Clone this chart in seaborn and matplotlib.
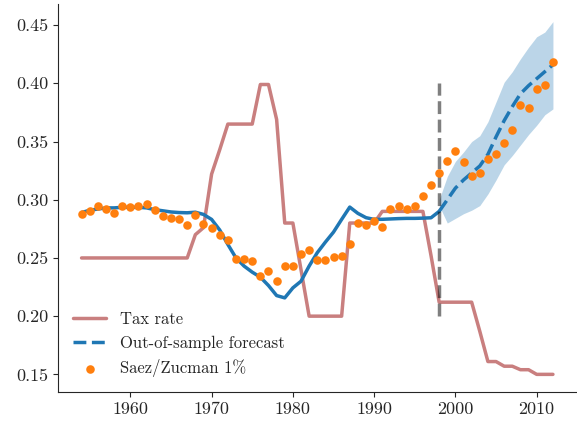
import numpy as np
import pandas as pd
import matplotlib
matplotlib.use('Agg')
import matplotlib.pyplot as plt
import seaborn as sns

sns.set_style("ticks")
plt.rcParams['font.family'] = ['cmr10', 'DejaVu Serif']
plt.rcParams['axes.unicode_minus'] = False
plt.rcParams['mathtext.fontset'] = 'cm'

# ---- data ----
years = list(range(1954, 2013))

tax_rate = [0.25] * 14 + [
    0.270, 0.276, 0.322, 0.343, 0.365, 0.365, 0.365, 0.365, 0.399, 0.399,  # 1968-77
    0.369, 0.280, 0.280, 0.240, 0.200, 0.200, 0.200, 0.200, 0.200, 0.280,  # 1978-87
    0.280, 0.280, 0.280, 0.290, 0.290, 0.290, 0.290, 0.290, 0.290, 0.252,  # 1988-97
    0.212, 0.212, 0.212, 0.212, 0.212, 0.187, 0.161, 0.161, 0.157, 0.157,  # 1998-07
    0.154, 0.154, 0.150, 0.150, 0.150,                                     # 2008-12
]

# in-sample fit, 1954-1998
fit_years = list(range(1954, 1999))
fit = [
    0.289, 0.291, 0.292, 0.293, 0.293, 0.2935, 0.2935, 0.2935, 0.293, 0.2915,
    0.2905, 0.2895, 0.289, 0.2888, 0.2893, 0.2874, 0.2831, 0.274, 0.2616, 0.250,
    0.243, 0.2378, 0.2335, 0.2263, 0.2177, 0.2157, 0.2243, 0.230, 0.243, 0.2545,
    0.2636, 0.2722, 0.2831, 0.2937, 0.2883, 0.2846, 0.2831, 0.2832, 0.2835, 0.2838,
    0.284, 0.284, 0.2842, 0.2845, 0.290,
]

# out-of-sample forecast, 1998-2012
fc_years = list(range(1998, 2013))
forecast = [0.290, 0.300, 0.310, 0.317, 0.323, 0.329, 0.339, 0.354, 0.368, 0.380,
            0.391, 0.398, 0.404, 0.410, 0.416]
fc_lower = [0.295, 0.280, 0.284, 0.288, 0.291, 0.295, 0.305, 0.317, 0.330, 0.338,
            0.347, 0.356, 0.364, 0.373, 0.378]
fc_upper = [0.300, 0.320, 0.333, 0.341, 0.350, 0.355, 0.367, 0.384, 0.401, 0.410,
            0.421, 0.431, 0.440, 0.444, 0.453]

saez_zucman = [
    0.288, 0.2906, 0.2943, 0.2917, 0.2886, 0.2943, 0.2941, 0.2949, 0.2963, 0.2909,
    0.2857, 0.2846, 0.2834, 0.2782, 0.2866, 0.2791, 0.2756, 0.270, 0.265, 0.2487,
    0.2487, 0.2473, 0.2347, 0.2392, 0.2298, 0.2435, 0.2435, 0.253, 0.257, 0.2479,
    0.2484, 0.2507, 0.2513, 0.2619, 0.2797, 0.2782, 0.2814, 0.2762, 0.2923, 0.2946,
    0.292, 0.2949, 0.303, 0.3127, 0.323, 0.333, 0.3417, 0.3324, 0.3204, 0.323,
    0.3354, 0.3397, 0.3488, 0.3597, 0.3815, 0.3784, 0.395, 0.3982, 0.4182,
]
break_year = 1998

# ---- plot ----
fig = plt.figure(figsize=(5.77, 4.22), dpi=100)
ax = fig.add_axes([58 / 577, 30 / 422, 518.5 / 577, 388 / 422])

sns.lineplot(x=years, y=tax_rate, ax=ax, color='brown', alpha=0.6, lw=2.5,
             label='Tax rate')
sns.lineplot(x=fit_years, y=fit, ax=ax, color='C0', lw=2.5)
ax.fill_between(fc_years, fc_lower, fc_upper, color='C0', alpha=0.3, lw=0)
sns.lineplot(x=fc_years, y=forecast, ax=ax, color='C0', lw=2.5, linestyle='--',
             label='Out-of-sample forecast')
sns.scatterplot(x=years, y=saez_zucman, ax=ax, color='C1', s=38, linewidth=0,
                zorder=3, label='Saez/Zucman 1%')
ax.vlines(break_year, 0.2, 0.4, colors='k', alpha=0.5, lw=2.5, linestyles='--')

ax.tick_params(labelsize=13)
ax.legend(loc='lower left', frameon=False, fontsize=12)
sns.despine(ax=ax)

fig.savefig('out.png', dpi=100)
